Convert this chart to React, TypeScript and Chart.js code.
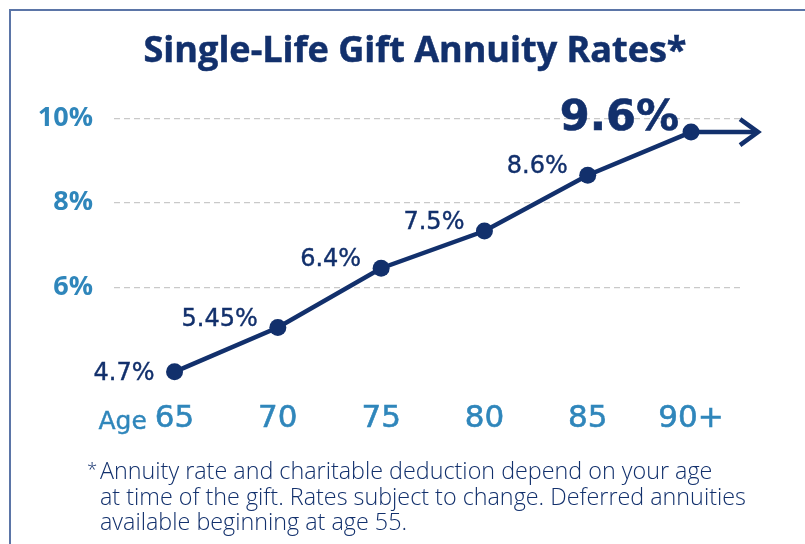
import React, { useEffect, useRef } from "react";
import { Chart, registerables } from "chart.js";

Chart.register(...registerables);

// ---- data ----
const ageLabels = ["65", "70", "75", "80", "85", "90+"];
const ageIndex = [0, 1, 2, 3, 4, 5];
// heights of the points as read against the chart's 6/8/10% grid
const plottedRates = [4.0, 5.05, 6.45, 7.33, 8.65, 9.67];
// rates printed next to the points
const rateLabels = ["4.7%", "5.45%", "6.4%", "7.5%", "8.6%", "9.6%"];
const yTickValues = [6, 8, 10];
const titleText = "Single-Life Gift Annuity Rates*";
const footnoteLines = [
  "Annuity rate and charitable deduction depend on your age",
  "at time of the gift. Rates subject to change. Deferred annuities",
  "available beginning at age 55.",
];

const NAVY = "#12306c";
const BLUE = "#2f86bb";
const W = 805;
const H = 544;

function fitFont(ctx: CanvasRenderingContext2D, text: string, weight: string, family: string, target: number) {
  ctx.font = `${weight} 40px ${family}`;
  const w = ctx.measureText(text).width;
  return (40 * target) / w;
}

const decorPlugin = {
  id: "decor",
  afterDatasetsDraw(chart: any) {
    const { ctx } = chart;
    const xs = chart.scales.x;
    const ys = chart.scales.y;
    ctx.save();

    // frame
    ctx.strokeStyle = "#5b75a7";
    ctx.lineWidth = 2;
    ctx.beginPath();
    ctx.moveTo(10, H);
    ctx.lineTo(10, 10);
    ctx.lineTo(W, 10);
    ctx.stroke();

    // title
    const tSize = fitFont(ctx, titleText, "bold", '"Open Sans"', 543);
    ctx.font = `bold ${tSize}px "Open Sans"`;
    ctx.fillStyle = NAVY;
    ctx.strokeStyle = NAVY;
    ctx.lineWidth = 0.5;
    ctx.textAlign = "center";
    ctx.textBaseline = "alphabetic";
    ctx.fillText(titleText, 415, 62);
    ctx.strokeText(titleText, 415, 62);

    // arrow from last point
    const n = plottedRates.length - 1;
    const px = xs.getPixelForValue(ageIndex[n]);
    const py = ys.getPixelForValue(plottedRates[n]);
    const tip = px + 70;
    ctx.strokeStyle = NAVY;
    ctx.lineWidth = 4.5;
    ctx.lineJoin = "miter";
    ctx.beginPath();
    ctx.moveTo(px, py);
    ctx.lineTo(tip - 3, py);
    ctx.stroke();
    ctx.beginPath();
    ctx.moveTo(tip - 21, py - 13);
    ctx.lineTo(tip - 3, py);
    ctx.lineTo(tip - 21, py + 13);
    ctx.stroke();

    // value labels
    ctx.fillStyle = NAVY;
    ctx.textAlign = "right";
    ctx.textBaseline = "middle";
    rateLabels.forEach((lab, i) => {
      const x = xs.getPixelForValue(ageIndex[i]);
      const y = ys.getPixelForValue(plottedRates[i]);
      if (i === n) {
        ctx.font = `bold 43px "DejaVu Sans"`;
        ctx.lineWidth = 0.6;
        ctx.fillText(lab, x - 12, y - 13);
        ctx.strokeText(lab, x - 12, y - 13);
      } else {
        ctx.font = `24px "DejaVu Sans"`;
        ctx.lineWidth = 0.4;
        const yy = y - (i === 0 ? -2 : 8);
        ctx.fillText(lab, x - 20, yy);
        ctx.strokeText(lab, x - 20, yy);
      }
    });

    // "Age" prefix before first tick label
    ctx.font = `31px "DejaVu Sans"`;
    const firstW = ctx.measureText(ageLabels[0]).width;
    const fx = xs.getPixelForValue(ageIndex[0]);
    ctx.font = `25px "DejaVu Sans"`;
    ctx.fillStyle = BLUE;
    ctx.strokeStyle = BLUE;
    ctx.lineWidth = 0.4;
    ctx.textAlign = "right";
    ctx.textBaseline = "alphabetic";
    ctx.fillText("Age", fx - firstW / 2 - 8, 429);
    ctx.strokeText("Age", fx - firstW / 2 - 8, 429);

    // footnote
    const fSize = fitFont(ctx, footnoteLines[1], "300", '"Open Sans"', 646);
    ctx.fillStyle = NAVY;
    ctx.textAlign = "left";
    ctx.font = `300 ${fSize * 0.8}px "Open Sans"`;
    ctx.fillText("*", 87, 476);
    ctx.font = `300 ${fSize}px "Open Sans"`;
    ctx.fillText(footnoteLines[0], 100, 479);
    ctx.fillText(footnoteLines[1], 100, 505);
    ctx.fillText(footnoteLines[2], 100, 530);

    ctx.restore();
  },
};

export default function App() {
  const ref = useRef<HTMLCanvasElement | null>(null);

  useEffect(() => {
    if (!ref.current) return;
    const chart = new Chart(ref.current, {
      type: "line",
      data: {
        datasets: [
          {
            data: ageIndex.map((x, i) => ({ x, y: plottedRates[i] })),
            borderColor: NAVY,
            backgroundColor: NAVY,
            borderWidth: 4.5,
            pointRadius: 8.5,
            pointBackgroundColor: NAVY,
            pointBorderWidth: 0,
            tension: 0,
          },
        ],
      },
      options: {
        responsive: false,
        animation: false,
        layout: { padding: { left: 0, top: 97, right: 65, bottom: 111 } },
        plugins: { legend: { display: false }, tooltip: { enabled: false }, title: { display: false } },
        scales: {
          x: {
            type: "linear",
            min: -0.586,
            max: 5.474,
            afterBuildTicks: (s: any) => {
              s.ticks = ageIndex.map((v) => ({ value: v }));
            },
            afterFit: (s: any) => {
              s.height = 40;
            },
            grid: { display: false, drawTicks: false },
            border: { display: false },
            ticks: {
              padding: 7,
              color: BLUE,
              textStrokeColor: BLUE,
              textStrokeWidth: 0.6,
              font: { family: '"DejaVu Sans"', size: 31 },
              callback: (v: any) => ageLabels[Math.round(Number(v))] ?? "",
            },
          },
          y: {
            type: "linear",
            min: 3.5,
            max: 10.5,
            afterBuildTicks: (s: any) => {
              s.ticks = yTickValues.map((v) => ({ value: v }));
            },
            afterFit: (s: any) => {
              s.width = 114;
            },
            grid: { color: "#c9c9c9", lineWidth: 1.2, drawTicks: false },
            border: { display: false, dash: [6, 4] },
            ticks: {
              padding: 21,
              color: BLUE,
              font: { family: '"Open Sans"', size: 27, weight: "bold" },
              callback: (v: any) => `${v}%`,
            },
          },
        },
      },
      plugins: [decorPlugin],
    });
    return () => chart.destroy();
  }, []);

  return (
    <div style={{ position: "fixed", left: 0, top: 0, width: W, height: H, background: "#fff" }}>
      <canvas ref={ref} width={W} height={H} style={{ display: "block" }} />
    </div>
  );
}
